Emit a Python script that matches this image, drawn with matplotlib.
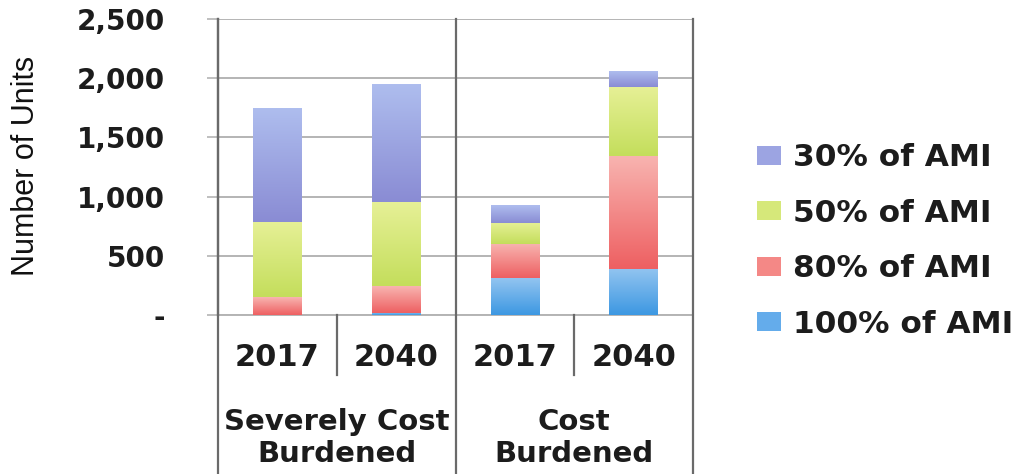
import numpy as np
import matplotlib
matplotlib.use("Agg")
import matplotlib.pyplot as plt
from matplotlib.colors import LinearSegmentedColormap
from matplotlib.patches import Patch

# Housing units by income band, stacked bottom to top
years = ["2017", "2040", "2017", "2040"]
groups = ["Severely Cost\nBurdened", "Cost\nBurdened"]
ami_100 = [0, 20, 310, 390]
ami_80 = [150, 228, 290, 955]
ami_50 = [635, 704, 180, 583]
ami_30 = [955, 991, 152, 133]
series_labels = ["100% of AMI", "80% of AMI", "50% of AMI", "30% of AMI"]
yticks = [0, 500, 1000, 1500, 2000, 2500]
ytick_labels = ["-", "500", "1,000", "1,500", "2,000", "2,500"]

# (top colour, bottom colour) for each band's vertical gradient
shades = [
    ("#92c4f0", "#3d98e2"),
    ("#f8b4b0", "#ee6062"),
    ("#e6f096", "#c4de5c"),
    ("#aebdee", "#8a8cd4"),
]
legend_colors = ["#64aceb", "#f48886", "#d6e87a", "#9ca4e2"]

TEXT = "#1c1c1c"
GRID = "#b4b4b4"
DIVIDER = "#6a6a6a"

fig = plt.figure(figsize=(10.27, 4.74), dpi=100)
ax = fig.add_axes([218 / 1027, 1 - 315 / 474, 475 / 1027, 296 / 474])

x = np.arange(len(years))
width = 0.41
stack = [ami_100, ami_80, ami_50, ami_30]
bottom = np.zeros(len(years))
for vals, (top_c, bot_c) in zip(stack, shades):
    bars = ax.bar(x, vals, width, bottom=bottom, color=bot_c, linewidth=0, zorder=2)
    cmap = LinearSegmentedColormap.from_list("grad", [bot_c, top_c])
    for rect in bars:
        h = rect.get_height()
        if h <= 0:
            continue
        x0 = rect.get_x()
        y0 = rect.get_y()
        grad = np.linspace(0, 1, 64).reshape(-1, 1)
        ax.imshow(grad, cmap=cmap, origin="lower", aspect="auto",
                  extent=(x0, x0 + rect.get_width(), y0, y0 + h),
                  zorder=3, interpolation="bilinear")
    bottom += np.array(vals)

ax.set_xlim(-0.5, len(years) - 0.5)
ax.set_ylim(0, 2500)

ax.set_yticks(yticks)
ax.set_yticklabels(ytick_labels, fontsize=20, fontweight="bold", color=TEXT)
ax.tick_params(axis="y", length=8, width=1.2, color=GRID, pad=30)
ax.tick_params(axis="x", bottom=False, labelbottom=False)
ax.yaxis.grid(True, color=GRID, linewidth=1.4, zorder=0)
ax.set_axisbelow(True)

for side in ["top", "right", "bottom"]:
    ax.spines[side].set_visible(False)
ax.spines["left"].set_color(DIVIDER)
ax.spines["left"].set_linewidth(1.6)

# Category table under the plot
xt = ax.get_xaxis_transform()
fig_bottom = -315 / 296
ax.plot([-0.5, 3.5], [0, 0], color=GRID, lw=1.4, transform=xt, clip_on=False, zorder=1)
for xv in [-0.5, 1.5, 3.5]:
    ax.plot([xv, xv], [1, fig_bottom], color=DIVIDER, lw=1.6,
            transform=xt, clip_on=False, zorder=4)
for xv in [0.5, 2.5]:
    ax.plot([xv, xv], [0, -60 / 296], color=DIVIDER, lw=1.6,
            transform=xt, clip_on=False, zorder=4)

for xi, yr in zip(x, years):
    ax.text(xi, -42 / 296, yr, transform=xt, ha="center", va="center",
            fontsize=22, fontweight="bold", color=TEXT)
for gi, g in enumerate(groups):
    ax.text(2 * gi + 0.5, -123 / 296, g, transform=xt, ha="center", va="center",
            fontsize=21, fontweight="bold", color=TEXT, linespacing=1.18)

fig.text(26 / 1027, 1 - 166 / 474, "Number of Units", rotation=90,
         ha="center", va="center", fontsize=22, color="#111111",
         family=["Liberation Sans Narrow", "Liberation Sans", "DejaVu Sans"])

handles = [Patch(facecolor=c, edgecolor="none") for c in legend_colors]
order = [3, 2, 1, 0]
fig.legend([handles[i] for i in order], [series_labels[i] for i in order],
           loc="center left", bbox_to_anchor=(757 / 1027, 1 - 241 / 474),
           frameon=False, borderpad=0, borderaxespad=0,
           handlelength=0.76, handleheight=0.55, handletextpad=0.38,
           labelspacing=0.85,
           prop={"size": 22.5, "weight": "bold"}, labelcolor=TEXT)

fig.savefig("out.png", dpi=100, facecolor="white")
